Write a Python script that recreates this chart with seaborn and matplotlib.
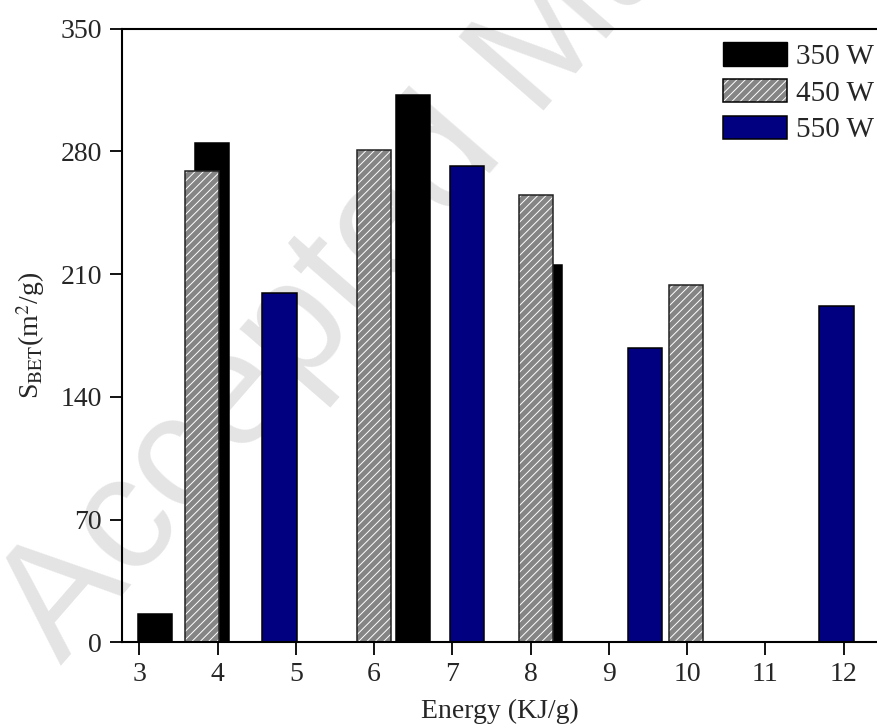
import numpy as np
import matplotlib
matplotlib.use('Agg')
import matplotlib.pyplot as plt
import seaborn as sns
from matplotlib.patches import Patch

# bar centres (KJ/g) and BET surface areas (m2/g) per microwave power
energy_350 = [3.20, 3.93, 6.50, 8.18]
sbet_350 = [16, 285, 312, 215]
energy_450 = [3.80, 6.00, 8.07, 9.99]
sbet_450 = [269, 281, 255, 204]
energy_550 = [4.79, 7.19, 9.46, 11.91]
sbet_550 = [199, 272, 168, 192]

labels = ['350 W', '450 W', '550 W']
x_ticks = [3, 4, 5, 6, 7, 8, 9, 10, 11, 12]
y_ticks = [0, 70, 140, 210, 280, 350]

bar_w = 0.44
gray = '#858585'
navy = '#000080'

sns.set_theme(style='ticks')
plt.rcParams['font.family'] = ['Liberation Serif', 'DejaVu Serif']
plt.rcParams['mathtext.fontset'] = 'stix'
plt.rcParams['hatch.linewidth'] = 0.7

fig = plt.figure(figsize=(8.78, 7.27), dpi=100)
ax = fig.add_axes([0.1386, 0.1165, 0.8614, 0.8439])


def bars(x, y, **kw):
    n0 = len(ax.patches)
    w = bar_w / np.diff(sorted(x)).min()
    sns.barplot(x=x, y=y, orient='x', native_scale=True, width=w,
                saturation=1, errorbar=None, ax=ax, **kw)
    return ax.patches[n0:]


for p in bars(energy_350, sbet_350, color='black'):
    p.set_edgecolor('black')
    p.set_linewidth(1.1)

for p in bars(energy_450, sbet_450, color=gray):
    p.set_edgecolor('white')
    p.set_linewidth(0)
    p.set_hatch('////')
for p in bars(energy_450, sbet_450, color=gray):
    p.set_facecolor('none')
    p.set_edgecolor('#222222')
    p.set_linewidth(1.1)

for p in bars(energy_550, sbet_550, color=navy):
    p.set_edgecolor('black')
    p.set_linewidth(1.1)

# journal watermark
ax.text(0.07, 0.085, 'Accepted Manuscript', transform=fig.transFigure,
        rotation=49, rotation_mode='anchor', ha='left', va='baseline',
        fontsize=117, color='#e4e4e4', family='Liberation Sans',
        zorder=0.5, clip_on=False)

ax.set_xlim(2.775, 12.44)
ax.set_ylim(0, 350)
ax.set_xticks(x_ticks)
ax.set_yticks(y_ticks)
ax.set_xticklabels([str(t) for t in x_ticks])
ax.tick_params(axis='both', direction='out', length=9, width=1.3,
               labelsize=20, pad=5, color='black')
ax.tick_params(top=False, right=False)

for side in ['left', 'bottom', 'top']:
    ax.spines[side].set_linewidth(1.5)
    ax.spines[side].set_color('black')
ax.spines['right'].set_visible(False)

ax.set_xlabel('Energy (KJ/g)', fontsize=20, labelpad=9)
ax.set_ylabel(r'S$_{\mathrm{BET}}$(m$^2$/g)', fontsize=20, labelpad=10)

handles = [
    Patch(facecolor='black', edgecolor='black'),
    (Patch(facecolor=gray, edgecolor='white', hatch='////', linewidth=0),
     Patch(facecolor='none', edgecolor='black', linewidth=1.1)),
    Patch(facecolor=navy, edgecolor='black', linewidth=1.1),
]
ax.legend(handles, labels, loc='upper right', bbox_to_anchor=(1.0, 0.985),
          frameon=False, fontsize=21, handlelength=2.2, handleheight=0.86,
          handletextpad=0.3, labelspacing=0.3, borderaxespad=0.0,
          borderpad=0.15)

fig.savefig('out.png', dpi=100)
